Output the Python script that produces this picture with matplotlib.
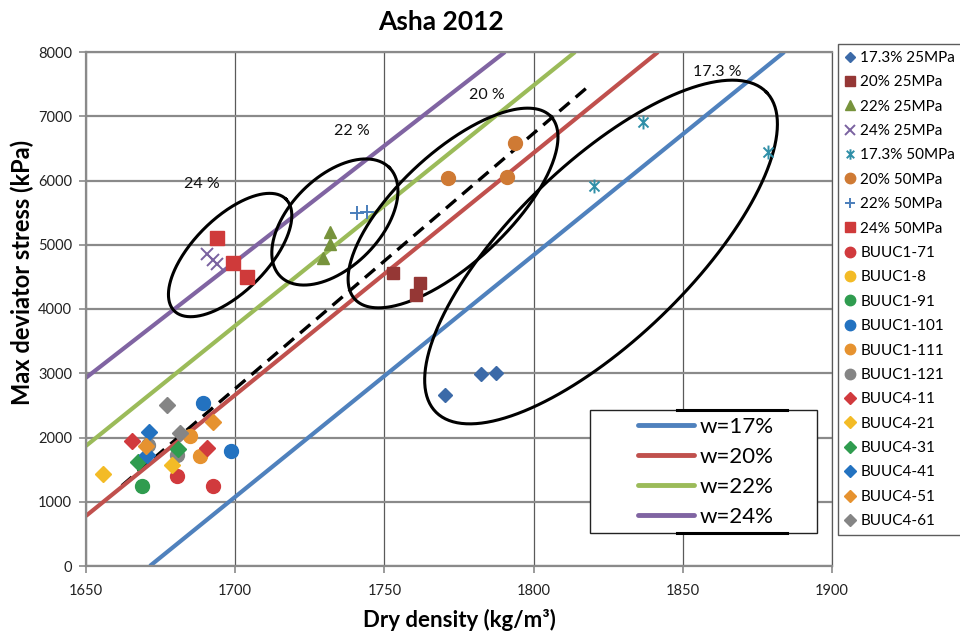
import numpy as np
import matplotlib
matplotlib.use('Agg')
import matplotlib.pyplot as plt
from matplotlib.path import Path
from matplotlib.patches import Rectangle
from matplotlib.lines import Line2D

plt.rcParams['font.family'] = ['Lato', 'DejaVu Sans']

# constant water content lines, end points (dry density, deviator stress)
w_labels = ['w=17%', 'w=20%', 'w=22%', 'w=24%']
w_colors = ['#4f81bd', '#c0504d', '#9bbb59', '#8064a2']
w_x = [[1671.4, 1884.0], [1650.0, 1841.7], [1650.0, 1813.9], [1650.0, 1790.4]]
w_y = [[0, 8000], [780, 8000], [1870, 8000], [2930, 8000]]

# dashed trend line
trend_x = [1662, 1819]
trend_y = [1250, 7490]

# Asha 2012 test series
asha_labels = ['17.3% 25MPa', '20% 25MPa', '22% 25MPa', '24% 25MPa',
               '17.3% 50MPa', '20% 50MPa', '22% 50MPa', '24% 50MPa']
asha_x = [[1770.3, 1782.4, 1787.4],
          [1752.9, 1761.9, 1760.6],
          [1731.8, 1731.8, 1729.4],
          [1690.5, 1692.6, 1693.9],
          [1836.7, 1820.2, 1878.6],
          [1771.3, 1791.1, 1793.8],
          [1740.8, 1744.2],
          [1693.9, 1699.3, 1704.0]]
asha_y = [[2661, 2988, 3004],
          [4560, 4405, 4218],
          [5198, 5012, 4794],
          [4856, 4763, 4700],
          [6911, 5914, 6444],
          [6039, 6054, 6584],
          [5494, 5510],
          [5105, 4716, 4498]]

# BUUC samples
buuc_labels = ['BUUC1-71', 'BUUC1-8', 'BUUC1-91', 'BUUC1-101', 'BUUC1-111', 'BUUC1-121',
               'BUUC4-11', 'BUUC4-21', 'BUUC4-31', 'BUUC4-41', 'BUUC4-51', 'BUUC4-61']
buuc_x = [[1680.4, 1692.7], [], [1668.7], [1689.3, 1698.5], [1684.9, 1688.2],
          [1670.9, 1680.4],
          [1665.3, 1690.4], [1655.6, 1678.7], [1680.9, 1667.5], [1671.2, 1670.3],
          [1692.7, 1670.1], [1677.0, 1681.5]]
buuc_y = [[1401, 1245], [], [1245], [2532, 1795], [2023, 1712],
          [1883, 1728],
          [1946, 1832], [1432, 1572], [1816, 1623], [2090, 1728],
          [2246, 1868], [2506, 2065]]

# circled groups
ell_labels = ['24 %', '22 %', '20 %', '17.3 %']
ell_cx = [1698.3, 1733.4, 1773.0, 1822.6]
ell_cy = [4840, 5354, 5572, 4887]
ell_lab_x = [1688.9, 1739.1, 1784.4, 1861.5]
ell_lab_y = [5946, 6770, 7331, 7689]

asterisk = Path([(0, -1), (0, 1), (-0.72, -0.72), (0.72, 0.72), (-0.72, 0.72), (0.72, -0.72)],
                [Path.MOVETO, Path.LINETO, Path.MOVETO, Path.LINETO, Path.MOVETO, Path.LINETO])

asha_style = [
    dict(marker='D', color='#3c6aa8', ms=7),
    dict(marker='s', color='#953735', ms=9),
    dict(marker='^', color='#77933c', ms=9),
    dict(marker='x', color='#7a62a0', ms=9, mew=1.4),
    dict(marker=asterisk, color='#2f8fa8', ms=10, mew=1.4),
    dict(marker='o', color='#cf7a34', ms=10),
    dict(marker='+', color='#4a7ebb', ms=10, mew=1.4),
    dict(marker='s', color='#cf3a3a', ms=10),
]
buuc_colors = ['#d13a3d', '#f3bb26', '#2f9c4f', '#2372c0', '#e6922f', '#858585']

W, H = 960, 639
fig = plt.figure(figsize=(W / 100, H / 100), dpi=100)
ax = fig.add_axes([86 / W, 1 - 566 / H, 746 / W, 514 / H])

ax.set_xlim(1650, 1900)
ax.set_ylim(0, 8000)
ax.set_xticks(np.arange(1650, 1901, 50))
ax.set_yticks(np.arange(0, 8001, 1000))
ax.grid(axis='y', color='#8a8a8a', lw=1.6)
ax.grid(axis='x', color='#5a5a5a', lw=0.9)
ax.set_axisbelow(True)
for side in ['left', 'bottom', 'top']:
    ax.spines[side].set_color('#8a8a8a')
    ax.spines[side].set_linewidth(1.6)
ax.spines['right'].set_color('#5a5a5a')
ax.spines['right'].set_linewidth(0.9)
ax.tick_params(direction='out', length=5, color='#8a8a8a', width=1.2,
               labelsize=10.5, labelcolor='#222222')
ax.tick_params(axis='x', pad=8)
ax.tick_params(axis='y', pad=5)

ax.plot(trend_x, trend_y, color='black', ls=(0, (4, 2.4)), lw=2.4, zorder=2)

w_handles = []
for xs, ys, c, lab in zip(w_x, w_y, w_colors, w_labels):
    h, = ax.plot(xs, ys, color=c, lw=3, solid_capstyle='butt', label=lab, zorder=2.5)
    w_handles.append(h)

# ellipses are sized in pixels, then mapped back to data units
px_x = 746 / 250.0
px_y = 514 / 8000.0
ell_a = [79, 77, 134, 230]
ell_b = [37, 45, 55, 88]
ell_ang = [45, 45, 43, 44]
t = np.linspace(0, 2 * np.pi, 300)
for cx, cy, a, b, ang in zip(ell_cx, ell_cy, ell_a, ell_b, ell_ang):
    th = np.radians(ang)
    u, v = a * np.cos(t), b * np.sin(t)
    ex = cx + (u * np.cos(th) - v * np.sin(th)) / px_x
    ey = cy + (u * np.sin(th) + v * np.cos(th)) / px_y
    ax.plot(ex, ey, color='black', lw=2.2, zorder=4)
for lx, ly, lab in zip(ell_lab_x, ell_lab_y, ell_labels):
    ax.text(lx, ly, lab, ha='center', va='center', fontsize=11.5, color='#111111', zorder=4)

pt_handles = []
for xs, ys, lab, st in zip(asha_x, asha_y, asha_labels, asha_style):
    h, = ax.plot(xs, ys, ls='none', label=lab, zorder=5, **st)
    pt_handles.append(h)
for i, (xs, ys, lab) in enumerate(zip(buuc_x, buuc_y, buuc_labels)):
    mk = 'o' if i < 6 else 'D'
    ms = 10 if i < 6 else 8
    h, = ax.plot(xs, ys, ls='none', marker=mk, ms=ms, color=buuc_colors[i % 6],
                 label=lab, zorder=5)
    pt_handles.append(h)

fig.text(441 / W, 1 - 22 / H, 'Asha 2012', ha='center', va='center',
         fontsize=19, fontweight='bold')
ax.set_xlabel('Dry density (kg/m³)', fontsize=16, fontweight='bold')
ax.xaxis.set_label_coords(0.5, -(609 - 566) / 514)
ax.set_ylabel('Max deviator stress (kPa)', fontsize=17, fontweight='bold')
ax.yaxis.set_label_coords((34 - 86) / 746, (566 - 272) / 514)

leg1 = fig.legend(handles=pt_handles, loc='upper left', bbox_to_anchor=(838 / W, 1 - 44 / H),
                  fontsize=11, frameon=True, fancybox=False, edgecolor='#333333',
                  handlelength=0.7, handletextpad=0.3, labelspacing=0.68,
                  borderpad=0.45, borderaxespad=0, markerscale=0.75)
leg1.get_frame().set_linewidth(1.0)

# boxed key for the water content lines
box = Rectangle((590 / W, 1 - 533 / H), 227 / W, 123 / H, transform=fig.transFigure,
                facecolor='white', edgecolor='#222222', lw=1.0, zorder=6)
ax.add_patch(box)
for yb in [1 - 410 / H, 1 - 533 / H]:
    ax.add_line(Line2D([677 / W, 787 / W], [yb, yb], transform=fig.transFigure,
                       color='black', lw=2.2, zorder=6.5))

leg2 = ax.legend(handles=w_handles, loc='center', bbox_to_anchor=(706 / W, 1 - 472 / H),
                 bbox_transform=fig.transFigure, fontsize=16, frameon=False,
                 handlelength=2.5, handletextpad=0.25, labelspacing=0.45,
                 borderpad=0, borderaxespad=0)
for ln in leg2.get_lines():
    ln.set_linewidth(3.5)
    ln.set_solid_capstyle('round')
leg2.set_zorder(7)

fig.savefig('out.png', dpi=100)
